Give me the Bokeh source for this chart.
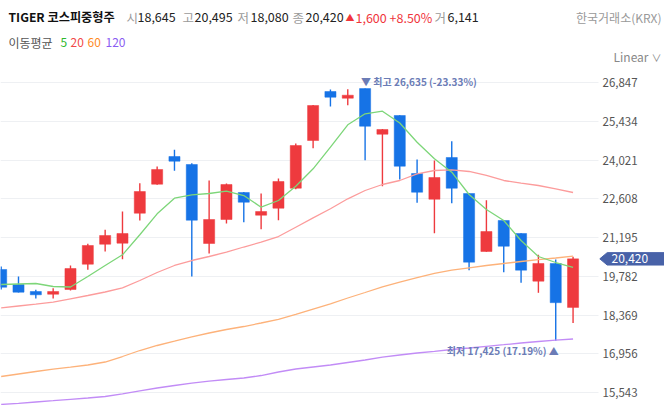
from bokeh.plotting import figure
from bokeh.models import (Range1d, FixedTicker, NumeralTickFormatter, Label,
                          PolyAnnotation, ColumnDataSource)
from bokeh.embed import file_html
from bokeh.resources import INLINE

# ---------------- data ----------------
idx = list(range(34))
opens = [20031, 19483, 19227, 19129, 19300, 20224, 20954, 20991, 22086, 23145,
         24156, 23864, 20980, 21856, 22842, 22013, 22269, 22999, 24740, 26529,
         26285, 26635, 24970, 25653, 23536, 22597, 24120, 22805, 20688, 21820,
         21345, 19603, 20250, 18645]
highs = [20140, 19775, 19289, 19348, 20177, 20969, 21480, 22148, 23181, 23791,
         24401, 23912, 23280, 23170, 22860, 22805, 23353, 24631, 26040, 26602,
         26613, 26635, 25160, 25660, 24047, 24010, 24715, 22810, 22561, 21830,
         21350, 20567, 20396, 20495]
lows = [19300, 19190, 18972, 18972, 19264, 20020, 20688, 20407, 21820, 23123,
        23634, 19775, 20615, 21710, 21758, 21502, 21831, 22962, 24459, 25982,
        26029, 24021, 23072, 23316, 22466, 21356, 22451, 20005, 20680, 19932,
        19545, 19180, 17425, 18080]
closes = [19384, 19202, 19107, 19227, 20067, 20907, 21272, 21345, 22878, 23682,
          23985, 21831, 21856, 23134, 22488, 22148, 23243, 24558, 26018, 26321,
          26394, 25262, 25142, 23802, 22853, 23389, 22999, 20297, 21418, 20881,
          20005, 20250, 18820, 20420]
ma5 = [19483, 19501, 19519, 19410, 19392, 19775, 20177, 20567, 21300, 22064,
       22634, 22758, 22805, 22889, 22732, 22305, 22550, 23072, 23707, 24496,
       25314, 25715, 25810, 25379, 24678, 24072, 23583, 22769, 22221, 21820,
       21089, 20505, 20286, 20104]
ma20 = [18632, 18698, 18764, 18837, 18961, 19081, 19209, 19362, 19629, 19921,
        20177, 20359, 20505, 20662, 20852, 21027, 21235, 21575, 21918, 22247,
        22612, 22915, 23134, 23280, 23525, 23645, 23671, 23609, 23463, 23280,
        23181, 23097, 22977, 22842]
ma60 = [16124, 16215, 16307, 16390, 16464, 16544, 16653, 16854, 17073, 17256,
        17413, 17573, 17712, 17840, 17949, 18077, 18212, 18388, 18588, 18778,
        18990, 19191, 19399, 19574, 19738, 19892, 20005, 20093, 20177, 20250,
        20323, 20388, 20450, 20516]
ma120 = [15102, 15146, 15193, 15240, 15292, 15339, 15394, 15492, 15602, 15704,
         15795, 15879, 15952, 16014, 16069, 16160, 16288, 16398, 16471, 16544,
         16635, 16727, 16829, 16909, 16982, 17044, 17110, 17165, 17227, 17285,
         17347, 17402, 17449, 17493]
y_ticks = [15543, 16956, 18369, 19782, 21195, 22608, 24021, 25434, 26847]

high_idx, high_text = 21, "▼ 최고 26,635 (-23.33%)"
low_idx, low_text = 32, "최저 17,425 (17.19%) ▲"
last_price_text = "20,420"
last_price = 20420

# ---------------- layout helpers (canvas px -> data) ----------------
X0_PAGE, DX_PAGE = 0.67, 17.33
P_REF, Y_REF, PPX = 26847, 82.3, 36.51
W, H = 664, 405
PLOT_RIGHT = 598


def xd(px):
    return (px - X0_PAGE) / DX_PAGE


def yd(py):
    return P_REF - (py - Y_REF) * PPX


RED = "#ee3a3e"
BLUE = "#1673e6"
FONT = "Noto Sans CJK KR"

p = figure(width=W, height=H, output_backend="svg", toolbar_location=None,
           x_axis_location=None, y_axis_location="right",
           x_range=Range1d(xd(0), xd(W)), y_range=Range1d(yd(H), yd(0)),
           min_border_left=0, min_border_right=0, min_border_top=0,
           min_border_bottom=0, outline_line_color=None,
           background_fill_color="white", border_fill_color="white")

ax = p.yaxis[0]
ax.fixed_location = xd(PLOT_RIGHT)
ax.ticker = FixedTicker(ticks=y_ticks)
ax.formatter = NumeralTickFormatter(format="0,0")
ax.axis_line_color = None
ax.major_tick_line_color = None
ax.minor_tick_line_color = None
ax.major_tick_out = 0
ax.major_tick_in = 0
ax.major_label_standoff = 4
ax.major_label_text_font = FONT
ax.major_label_text_font_size = "11.5px"
ax.major_label_text_color = "#555555"

p.xgrid.visible = False
p.ygrid.grid_line_color = "#eef0f3"
p.ygrid.grid_line_width = 1
try:
    p.ygrid.cross_bounds = (xd(0), xd(PLOT_RIGHT))
except Exception:
    pass

colors = [RED if c >= o else BLUE for o, c in zip(opens, closes)]
src = ColumnDataSource(dict(
    idx=idx, open=opens, high=highs, low=lows, close=closes, color=colors,
    top=[max(o, c) for o, c in zip(opens, closes)],
    bottom=[min(o, c) for o, c in zip(opens, closes)],
))

p.segment(x0="idx", y0="low", x1="idx", y1="high", source=src,
          line_color="color", line_width=1.4)
p.vbar(x="idx", width=0.64, top="top", bottom="bottom", source=src,
       fill_color="color", line_color="color", line_width=0.5)

p.line(idx, ma120, line_color="#c28cf6", line_width=1.3)
p.line(idx, ma60, line_color="#fdb27a", line_width=1.3)
p.line(idx, ma20, line_color="#fc9c9c", line_width=1.3)
p.line(idx, ma5, line_color="#7dd679", line_width=1.3)


def lab(px, py, text, color="#222222", size="12.5px", style="normal",
        align="left"):
    p.add_layout(Label(x=xd(px), y=yd(py), text=text, text_color=color,
                       text_font=FONT, text_font_size=size,
                       text_font_style=style, text_align=align,
                       text_baseline="middle"))


# header line 1
lab(8, 16.5, "TIGER 코스피중형주", "#111111", "12.2px", "bold")
lab(126, 16.5, "시", "#9a9a9a")
lab(137, 16.5, "18,645", "#222222")
lab(182, 16.5, "고", "#9a9a9a")
lab(194, 16.5, "20,495", "#222222")
lab(237, 16.5, "저", "#9a9a9a")
lab(250, 16.5, "18,080", "#222222")
lab(292, 16.5, "종", "#9a9a9a")
lab(305, 16.5, "20,420", "#222222")
lab(345, 17, "▲", "#f0353b", "9px")
lab(355, 16.5, "1,600 +8.50%", "#f0353b")
lab(434, 16.5, "거", "#9a9a9a")
lab(447, 16.5, "6,141", "#222222")
lab(661, 16.5, "한국거래소(KRX)", "#999999", "12px", align="right")

# header line 2 (legend)
lab(8, 42, "이동평균", "#555555", "12px")
lab(60, 42, "5", "#2cb82c", "12px")
lab(70, 42, "20", "#f24848", "12px")
lab(87, 42, "60", "#ff8a1e", "12px")
lab(105, 42, "120", "#8a5cf2", "12px")

lab(613, 56, "Linear", "#888888", "12px")
lab(651, 57, "∨", "#888888", "10px")

# high / low annotations
p.add_layout(Label(x=high_idx - 4 / DX_PAGE, y=yd(81), text=high_text,
                   text_color="#6b7cb6", text_font=FONT,
                   text_font_size="10px", text_font_style="bold",
                   text_align="left", text_baseline="middle"))
p.add_layout(Label(x=low_idx + 3 / DX_PAGE, y=yd(350), text=low_text,
                   text_color="#6b7cb6", text_font=FONT,
                   text_font_size="10px", text_font_style="bold",
                   text_align="right", text_baseline="middle"))

# last price tag on the axis
tag_h = 6.2 * PPX
p.add_layout(PolyAnnotation(
    xs=[xd(599.3), xd(606.7), xd(W + 5), xd(W + 5), xd(606.7)],
    ys=[last_price, last_price + tag_h, last_price + tag_h,
        last_price - tag_h, last_price - tag_h],
    fill_color="#4862a8", fill_alpha=1.0, line_color="#4862a8",
    line_alpha=1.0))
p.add_layout(Label(x=xd(611), y=last_price, text=last_price_text,
                   text_color="white", text_font=FONT, text_font_size="12px",
                   text_align="left", text_baseline="middle"))

open("out.html", "w").write(file_html(p, INLINE))
